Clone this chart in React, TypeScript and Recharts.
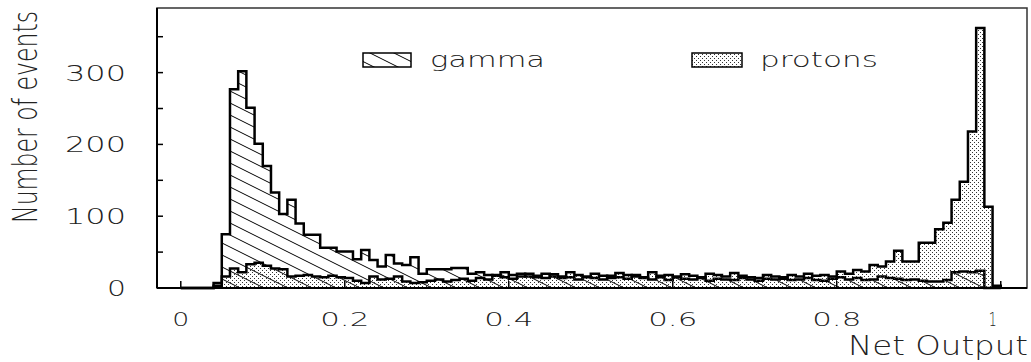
import React from 'react';
import { ComposedChart, Area, XAxis, YAxis, ReferenceArea } from 'recharts';

// Histogram bins: 0.00-0.01, 0.01-0.02, ... 0.99-1.00
const BIN_WIDTH = 0.01;

const gammaCounts = [
  0, 0, 0, 0, 7, 75, 277, 302, 251, 201,
  170, 133, 103, 123, 90, 74, 74, 56, 56, 51,
  51, 40, 53, 39, 30, 46, 34, 32, 43, 20,
  26, 26, 26, 28, 28, 20, 22, 18, 17, 22,
  18, 20, 16, 15, 20, 16, 14, 15, 12, 16,
  14, 12, 17, 15, 13, 18, 14, 12, 15, 11,
  16, 13, 12, 15, 10, 13, 12, 11, 14, 12,
  10, 13, 12, 15, 11, 12, 14, 11, 10, 13,
  15, 12, 14, 11, 12, 16, 14, 13, 11, 12,
  10, 9, 9, 11, 22, 23, 22, 24, 0, 0,
];

const protonCounts = [
  0, 0, 0, 0, 3, 16, 27, 22, 33, 35,
  31, 27, 26, 16, 17, 18, 16, 15, 17, 15,
  14, 10, 7, 16, 12, 13, 16, 9, 7, 8,
  10, 12, 9, 11, 13, 10, 14, 12, 18, 15,
  13, 16, 20, 17, 14, 19, 16, 22, 18, 15,
  20, 17, 14, 21, 18, 16, 15, 22, 17, 18,
  15, 19, 17, 14, 20, 18, 16, 21, 17, 15,
  14, 18, 16, 13, 18, 16, 20, 17, 18, 16,
  23, 20, 25, 23, 32, 30, 37, 52, 37, 37,
  63, 63, 82, 91, 123, 148, 218, 362, 113, 3,
];

const xTicks = [0, 0.2, 0.4, 0.6, 0.8, 1];
const yTicks = [0, 50, 100, 150, 200, 250, 300, 350];
const yLabelled = [0, 100, 200, 300];

const X_DOMAIN: [number, number] = [-0.029, 1.032];
const Y_DOMAIN: [number, number] = [0, 390];

const data = gammaCounts.map((g, i) => ({
  x: +(i * BIN_WIDTH).toFixed(2),
  gamma: g,
  protons: protonCounts[i],
}));
data.push({ x: 1, gamma: 0, protons: 0 });

const FONT = '"DejaVu Sans", sans-serif';

const YTick = (props: any) => {
  const { x, y, payload } = props;
  if (!yLabelled.includes(payload.value)) return <g />;
  const s = String(payload.value);
  return (
    <text
      x={x}
      y={y}
      dy={8}
      textAnchor="end"
      fontFamily={FONT}
      fontWeight={200}
      fontSize={21}
      textLength={s.length * 21 - 2}
      lengthAdjust="spacingAndGlyphs"
      fill="#222"
    >
      {s}
    </text>
  );
};

const XTick = (props: any) => {
  const { x, y, payload } = props;
  const s = String(payload.value);
  let len = 0;
  for (const c of s) len += c === '.' ? 15 : c === '1' ? 8 : 17;
  return (
    <text
      x={x}
      y={y}
      dx={s === '1' ? -8 : 0}
      dy={8}
      textAnchor="middle"
      fontFamily={FONT}
      fontWeight={200}
      fontSize={20}
      textLength={len}
      lengthAdjust="spacingAndGlyphs"
      fill="#222"
    >
      {s}
    </text>
  );
};

export default function App() {
  return (
    <div style={{ position: 'absolute', left: 0, top: 0, width: 1031, height: 362, background: '#fff' }}>
      <ComposedChart
        width={1031}
        height={362}
        data={data}
        margin={{ top: 8, right: 4, bottom: 44, left: 97 }}
      >
        <XAxis
          type="number"
          dataKey="x"
          domain={X_DOMAIN}
          ticks={xTicks}
          height={30}
          axisLine={{ stroke: '#000', strokeWidth: 2 }}
          tickLine={{ stroke: '#000', strokeWidth: 1.5 }}
          tickSize={-7}
          tickMargin={37}
          tick={<XTick />}
          interval={0}
        />
        <YAxis
          type="number"
          domain={Y_DOMAIN}
          ticks={yTicks}
          width={60}
          axisLine={{ stroke: '#000', strokeWidth: 2 }}
          tickLine={{ stroke: '#000', strokeWidth: 1.5 }}
          tickSize={-6}
          tickMargin={37}
          tick={<YTick />}
          interval={0}
        />
        <ReferenceArea
          x1={X_DOMAIN[0]}
          x2={X_DOMAIN[1]}
          y1={Y_DOMAIN[0]}
          y2={Y_DOMAIN[1]}
          fill="none"
          stroke="#333"
          strokeWidth={1.5}
        />
        <Area
          type="stepAfter"
          dataKey="gamma"
          stroke="#000"
          strokeWidth={2.5}
          fill="url(#hatchGamma)"
          fillOpacity={1}
          dot={false}
          activeDot={false}
          isAnimationActive={false}
        />
        <Area
          type="stepAfter"
          dataKey="protons"
          stroke="#000"
          strokeWidth={2.5}
          fill="url(#dotsProton)"
          fillOpacity={1}
          dot={false}
          activeDot={false}
          isAnimationActive={false}
        />
      </ComposedChart>
      <svg
        width={1031}
        height={362}
        style={{ position: 'absolute', left: 0, top: 0, pointerEvents: 'none' }}
      >
        <defs>
          <pattern id="hatchGamma" patternUnits="userSpaceOnUse" width={24} height={12}>
            <path d="M-2,-1 L26,13 M-26,-1 L2,13 M22,-1 L50,13" stroke="#000" strokeWidth={1} />
          </pattern>
          <pattern id="dotsProton" patternUnits="userSpaceOnUse" width={4} height={4}>
            <rect x={0} y={0} width={1} height={1} fill="#333" />
            <rect x={2} y={2} width={1} height={1} fill="#333" />
          </pattern>
        </defs>
        {/* legend */}
        <rect x={363} y={53} width={48} height={14} fill="url(#hatchGamma)" stroke="#000" strokeWidth={1.5} />
        <text x={430} y={67} fontFamily={FONT} fontWeight={200} fontSize={22} textLength={115} lengthAdjust="spacingAndGlyphs" fill="#222">gamma</text>
        <rect x={692} y={53} width={50} height={14} fill="url(#dotsProton)" stroke="#000" strokeWidth={1.5} />
        <text x={760} y={67} fontFamily={FONT} fontWeight={200} fontSize={22} textLength={118} lengthAdjust="spacingAndGlyphs" fill="#222">protons</text>
        {/* axis titles */}
        <text
          transform="translate(37,117) rotate(-90) scale(0.695,1)"
          textAnchor="middle"
          fontFamily={FONT}
          fontWeight={200}
          fontSize={34}
          textLength={305}
          lengthAdjust="spacingAndGlyphs"
          fill="#222"
        >
          Number of events
        </text>
        <text x={1028} y={355} textAnchor="end" fontFamily={FONT} fontWeight={200} fontSize={26} textLength={180} lengthAdjust="spacingAndGlyphs" fill="#222">
          Net Output
        </text>
      </svg>
    </div>
  );
}
